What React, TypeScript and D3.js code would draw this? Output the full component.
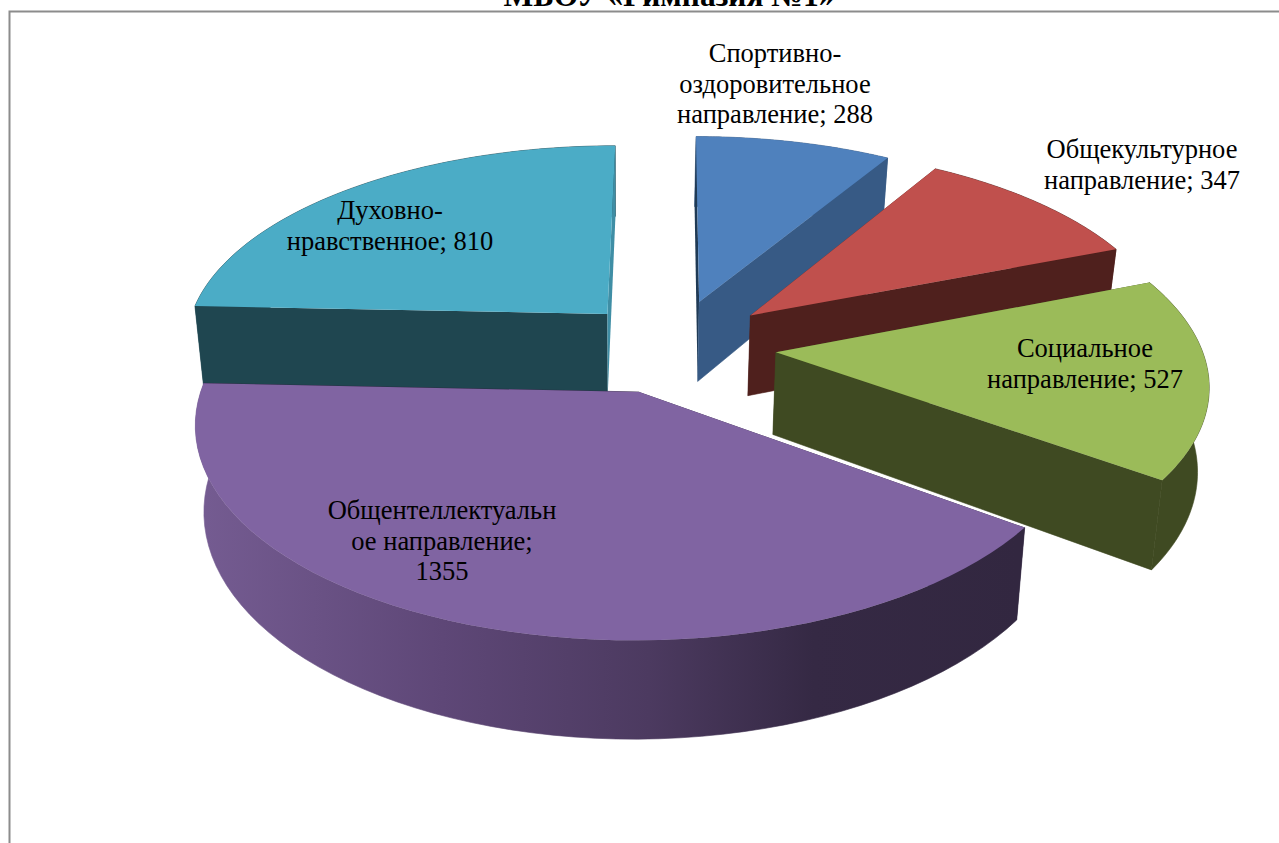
import * as d3 from "d3";

const titleText = "МБОУ «Гимназия №1»";
const categories = ["Спортивно-оздоровительное", "Общекультурное", "Социальное", "Общеинтеллектуальное", "Духовно-нравственное"];
const values = [288, 347, 527, 1355, 810];
const topColors = ["#4f81bd", "#c0504d", "#9bbb59", "#8064a2", "#4bacc6"];
const wallColors = ["#375a85", "#4f201d", "#3f4a22", "#2f2540", "#1f4650"];
const sliverColors = ["#1f3a55", "#4f201d", "#3f4a22", "#2f2540", "#3f8ea5"];
const labelLines = [
  ["Спортивно-", "оздоровительное", "направление; 288"],
  ["Общекультурное", "направление; 347"],
  ["Социальное", "направление; 527"],
  ["Общентеллектуальн", "ое направление;", "1355"],
  ["Духовно-", "нравственное; 810"],
];
const labelX = [775, 1142, 1085, 442, 390];
const labelY = [62, 158, 357, 519, 219];
const drawOrder = [4, 0, 1, 2, 3];
const explodes = [0.236, 0.243, 0.243, 0.236, 0.228];

// projection of the tilted, exploded pie
const cx = 673, cy = 346;
const R = 425, tilt = 0.47, persp = 0.139, depth = 82, shrink = 0.98, vanishX = 625;

function project(u: number, v: number, low: boolean): [number, number] {
  const p = 1 / (1 + persp * v);
  const x = cx + R * u * p;
  const y = cy - R * tilt * v * p;
  if (!low) return [x, y];
  return [vanishX + (x - vanishX) * shrink, y + depth * p];
}

const pieData = d3.pie<number>().sort(null).value((d) => d)(values);

export default function App() {
  const line = d3.line();
  const slices = pieData.map((d, i) => {
    const mid = (d.startAngle + d.endAngle) / 2;
    const ox = explodes[i] * Math.sin(mid);
    const oy = explodes[i] * Math.cos(mid);
    const angles = d3.range(0, 61).map((k) => d.startAngle + ((d.endAngle - d.startAngle) * k) / 60);
    const rim = (low: boolean) => angles.map((a) => project(ox + Math.sin(a), oy + Math.cos(a), low));
    const apex = project(ox, oy, false);
    const apexLow = project(ox, oy, true);
    const top = rim(false);
    const bottom = rim(true);
    return {
      top: line([apex, ...top])! + "Z",
      outer: line([...top, ...bottom.slice().reverse()])! + "Z",
      startWall: line([apex, top[0], bottom[0], apexLow])! + "Z",
      endWall: line([apex, top[60], bottom[60], apexLow])! + "Z",
    };
  });

  return (
    <svg
      width={1279}
      height={843}
      style={{ position: "absolute", left: 0, top: 0, background: "#fff" }}
      fontFamily="'Liberation Serif', serif"
    >
      <defs>
        <linearGradient id="purpleWall" gradientUnits="userSpaceOnUse" x1={195} y1={0} x2={1020} y2={0}>
          <stop offset="0" stopColor="#755c92" />
          <stop offset="0.3" stopColor="#5e4777" />
          <stop offset="0.55" stopColor="#4c3a60" />
          <stop offset="0.75" stopColor="#352944" />
          <stop offset="1" stopColor="#322740" />
        </linearGradient>
      </defs>
      <text x={669} y={6} textAnchor="middle" fontSize={31.5} fontWeight="bold" fill="#000">
        {titleText}
      </text>
      <path d="M1279,11.5H9.5V843" fill="none" stroke="#8c8c8c" strokeWidth={2} />
      {drawOrder.map((i) => {
        const outerFill = i === 3 ? "url(#purpleWall)" : wallColors[i];
        const outer = <path d={slices[i].outer} fill={outerFill} stroke={outerFill} strokeWidth={0.6} />;
        return (
          <g key={categories[i]}>
            {/* the big front slice keeps its rim on top, the others show the radial walls */}
            {i !== 3 && outer}
            <path d={slices[i].startWall} fill={i === 0 ? sliverColors[i] : wallColors[i]} />
            <path d={slices[i].endWall} fill={i === 4 ? sliverColors[i] : wallColors[i]} stroke={i === 4 ? "none" : wallColors[i]} strokeWidth={0.6} />
            {i === 3 && outer}
            <path d={slices[i].top} fill={topColors[i]} />
          </g>
        );
      })}
      {labelLines.map((lines, i) =>
        lines.map((t, j) => (
          <text key={t} x={labelX[i]} y={labelY[i] + j * 30.5} textAnchor="middle" fontSize={26.5} fill="#000">
            {t}
          </text>
        ))
      )}
    </svg>
  );
}
